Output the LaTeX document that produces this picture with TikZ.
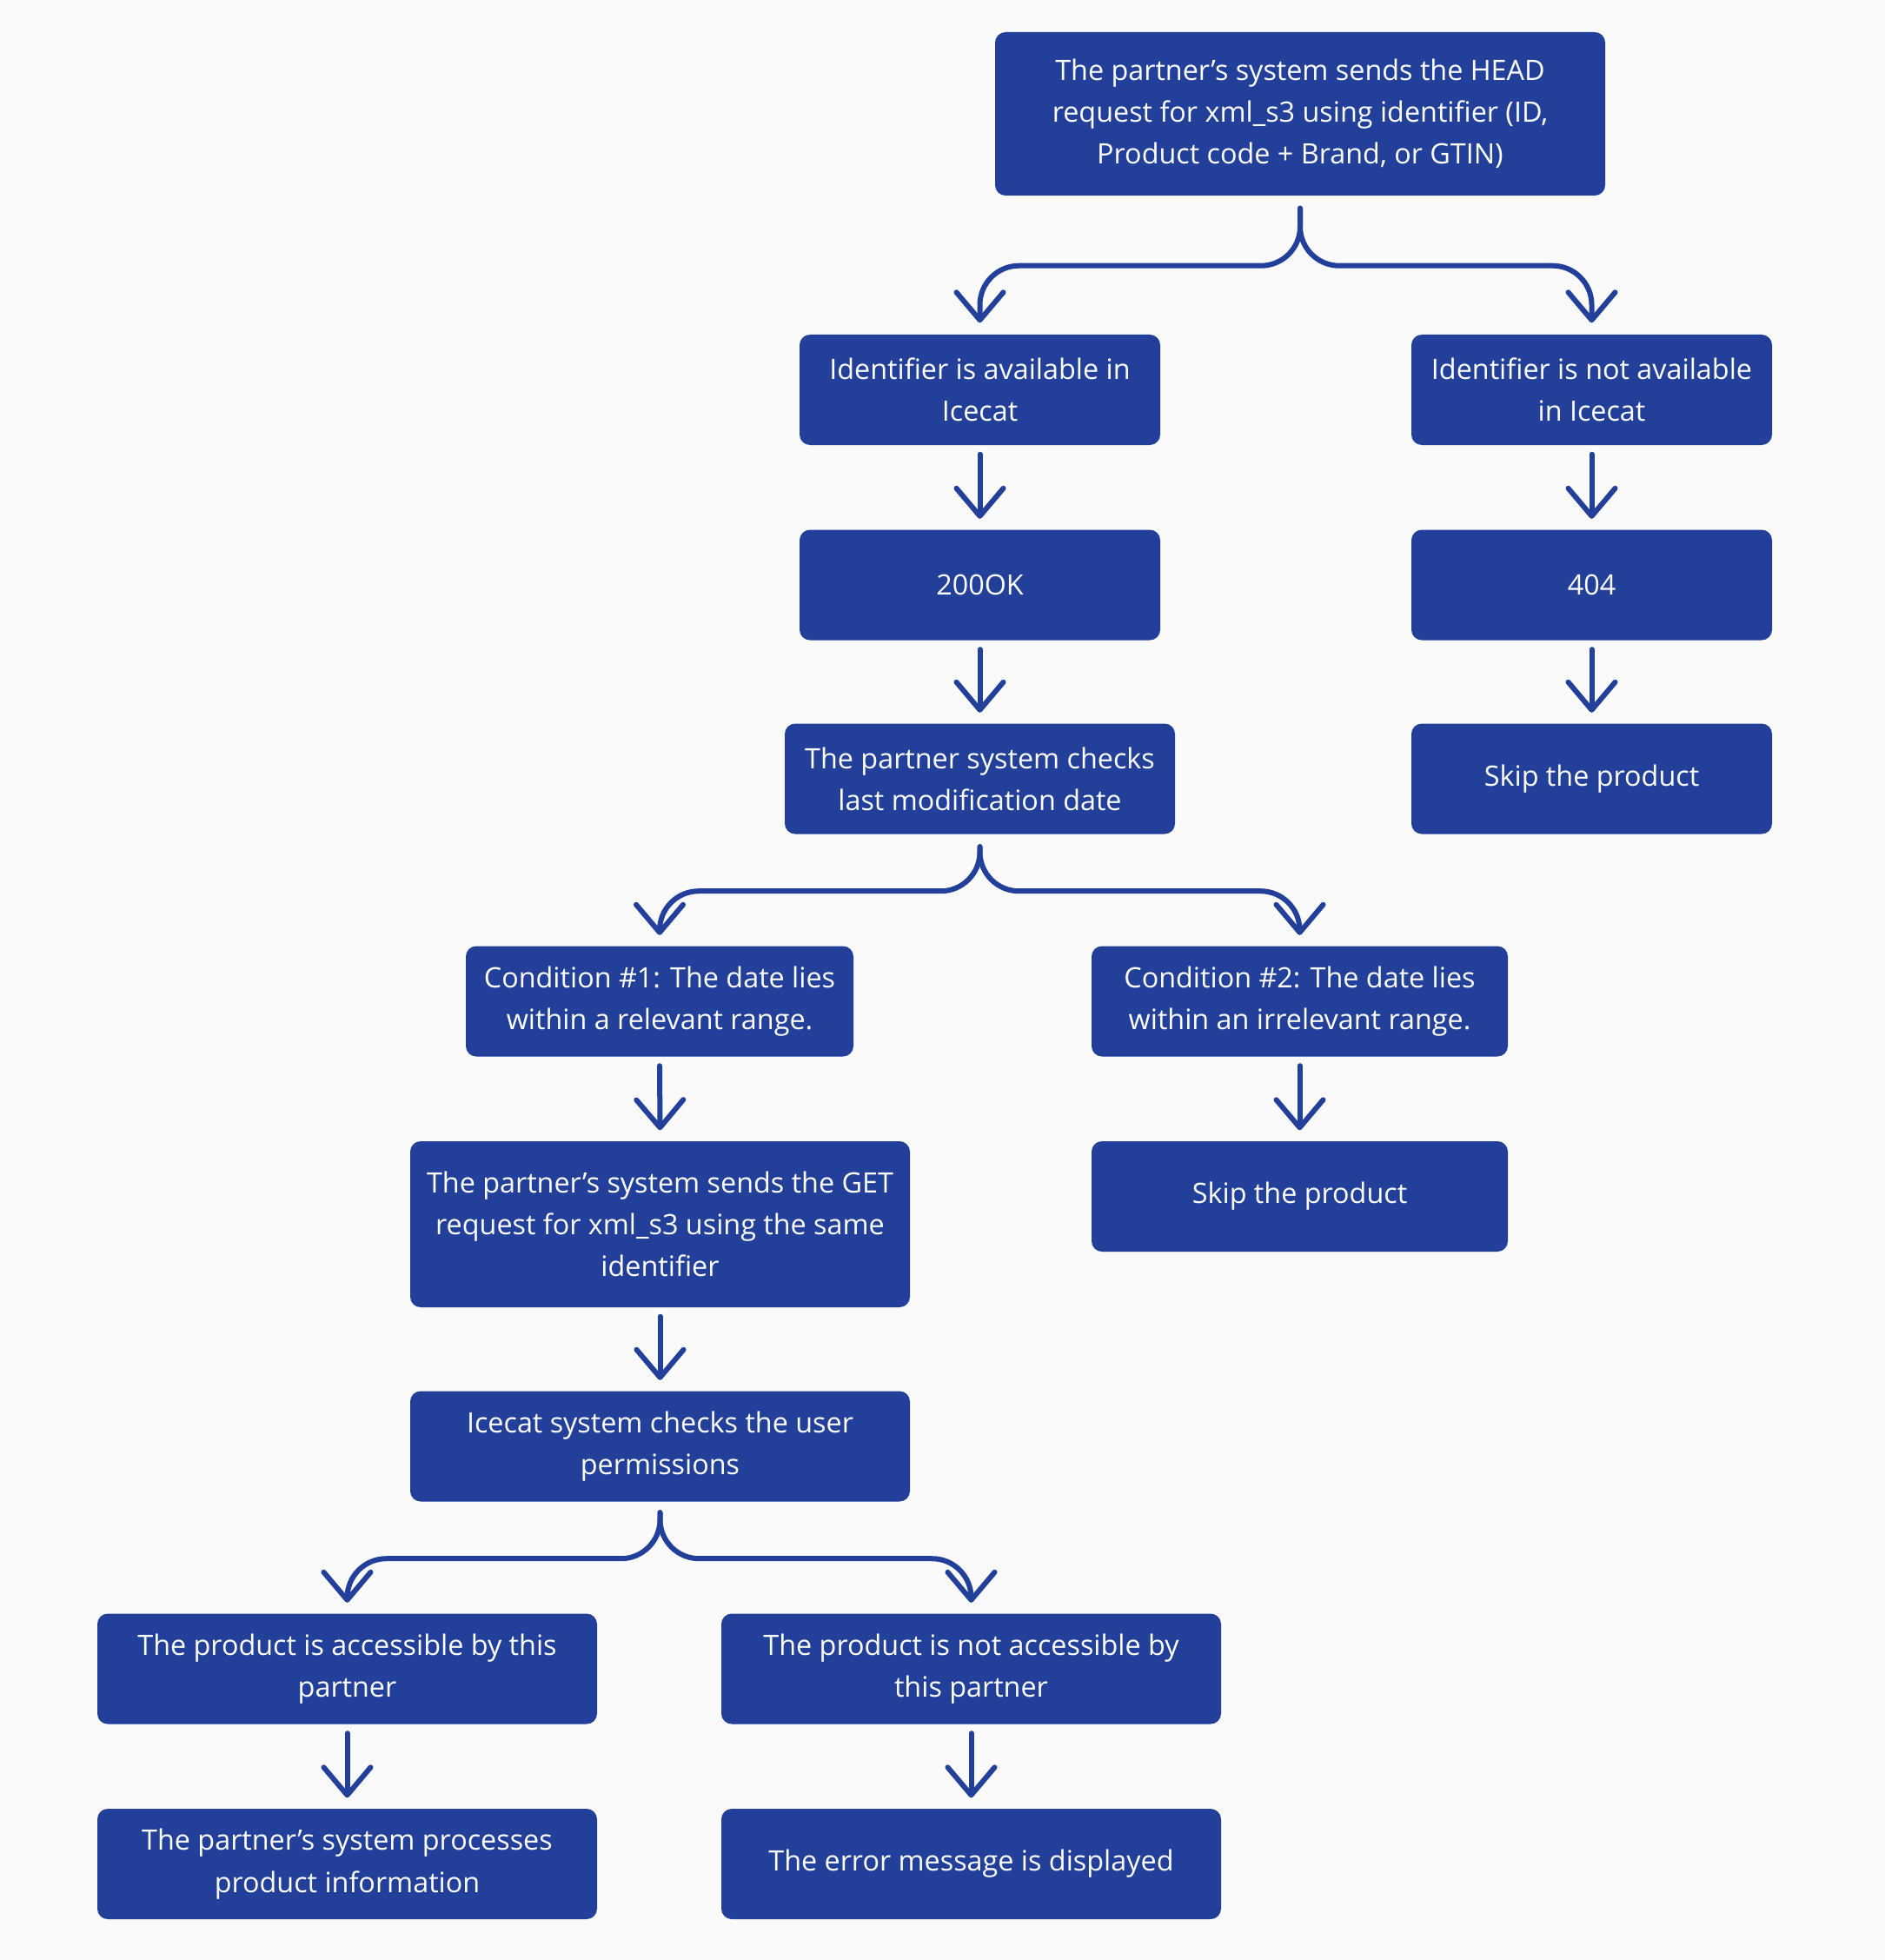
\documentclass[tikz,border=0pt]{standalone}
\usepackage{fontspec}
\setmainfont{Open Sans}
\usetikzlibrary{arrows.meta}
\definecolor{flowblue}{HTML}{22409A}
\definecolor{pagebg}{HTML}{FAFAFA}
\begin{document}
\begin{tikzpicture}[x=1cm,y=1cm,
  box/.style={fill=flowblue,rounded corners=0.12cm,text=white,align=center,
    inner sep=0pt,minimum height=1.27cm,font=\fontsize{9.2}{13.7}\selectfont},
  flow/.style={draw=flowblue,line width=0.06cm,line cap=round,line join=round,
    -{Straight Barb[length=0.32cm,width=0.54cm,line cap=round,line join=round]}},
  fork/.style={flow,rounded corners=0.45cm}]
% page
\fill[pagebg] (0,0) rectangle (21.69,-22.55);
\useasboundingbox (0,0) rectangle (21.69,-22.55);
% top request
\node[box,minimum width=7.02cm,minimum height=1.88cm] (head) at (14.96,-1.31) {The partner’s system sends the HEAD\\request for xml\_s3 using identifier (ID,\\Product code + Brand, or GTIN)};
% left column: identifier found
\node[box,minimum width=4.15cm] (avail) at (11.275,-4.485) {Identifier is available in\\Icecat};
\node[box,minimum width=4.15cm] (ok) at (11.275,-6.73) {200OK};
\node[box,minimum width=4.49cm] (checks) at (11.275,-8.96) {The partner system checks\\last modification date};
% right column: identifier missing
\node[box,minimum width=4.15cm] (navail) at (18.315,-4.485) {Identifier is not available\\in Icecat};
\node[box,minimum width=4.15cm] (nf) at (18.315,-6.73) {404};
\node[box,minimum width=4.15cm] (skipa) at (18.315,-8.96) {Skip the product};
% date conditions
\node[box,minimum width=4.46cm] (condone) at (7.59,-11.52) {Condition \#1: The date lies\\within a relevant range.};
\node[box,minimum width=4.79cm] (condtwo) at (14.955,-11.52) {Condition \#2: The date lies\\within an irrelevant range.};
\node[box,minimum width=5.75cm,minimum height=1.91cm] (get) at (7.595,-14.085) {The partner’s system sends the GET\\request for xml\_s3 using the same\\identifier};
\node[box,minimum width=4.79cm] (skipb) at (14.955,-13.765) {Skip the product};
\node[box,minimum width=5.75cm] (perms) at (7.595,-16.64) {Icecat system checks the user\\permissions};
% permission outcomes
\node[box,minimum width=5.75cm] (acc) at (3.995,-19.2) {The product is accessible by this\\partner};
\node[box,minimum width=5.75cm] (nacc) at (11.175,-19.2) {The product is not accessible by\\this partner};
\node[box,minimum width=5.75cm] (proc) at (3.995,-21.445) {The partner’s system processes\\product information};
\node[box,minimum width=5.75cm] (err) at (11.175,-21.445) {The error message is displayed};
% forks
\draw[fork] ([yshift=-0.14cm]head.south) -- ++(0,-0.66) -| ([yshift=0.13cm]avail.north);
\draw[fork] ([yshift=-0.14cm]head.south) -- ++(0,-0.66) -| ([yshift=0.13cm]navail.north);
\draw[fork] ([yshift=-0.14cm]checks.south) -- ++(0,-0.51) -| ([yshift=0.12cm]condone.north);
\draw[fork] ([yshift=-0.14cm]checks.south) -- ++(0,-0.51) -| ([yshift=0.12cm]condtwo.north);
\draw[fork] ([yshift=-0.12cm]perms.south) -- ++(0,-0.53) -| ([yshift=0.12cm]acc.north);
\draw[fork] ([yshift=-0.12cm]perms.south) -- ++(0,-0.53) -| ([yshift=0.12cm]nacc.north);
% straight steps
\draw[flow] ([yshift=-0.1cm]avail.south) -- ([yshift=0.12cm]ok.north);
\draw[flow] ([yshift=-0.1cm]ok.south) -- ([yshift=0.12cm]checks.north);
\draw[flow] ([yshift=-0.1cm]navail.south) -- ([yshift=0.12cm]nf.north);
\draw[flow] ([yshift=-0.1cm]nf.south) -- ([yshift=0.12cm]skipa.north);
\draw[flow] ([yshift=-0.1cm]condone.south) -- ([yshift=0.12cm]get.north);
\draw[flow] ([yshift=-0.1cm]condtwo.south) -- ([yshift=0.12cm]skipb.north);
\draw[flow] ([yshift=-0.1cm]get.south) -- ([yshift=0.12cm]perms.north);
\draw[flow] ([yshift=-0.1cm]acc.south) -- ([yshift=0.12cm]proc.north);
\draw[flow] ([yshift=-0.1cm]nacc.south) -- ([yshift=0.12cm]err.north);
\end{tikzpicture}
\end{document}
